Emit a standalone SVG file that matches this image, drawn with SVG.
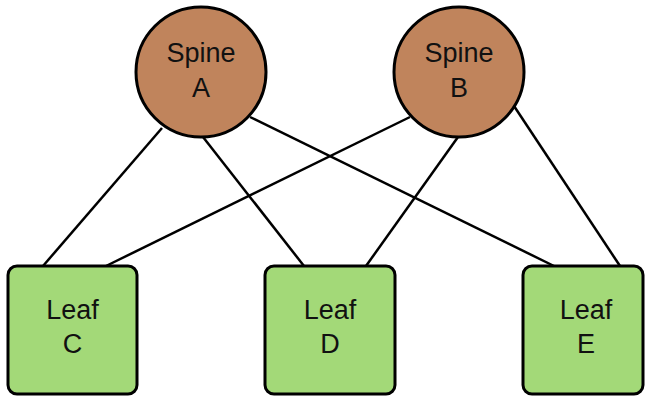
<svg xmlns="http://www.w3.org/2000/svg" width="645" height="396" viewBox="0 0 645 396">
<style>
.spine{fill:#c0845c;stroke:#000;stroke-width:3}
.leaf{fill:#a3d978;stroke:#000;stroke-width:3}
.lbl{font-family:"Liberation Sans",Arial,sans-serif;font-size:27px;fill:#111;text-anchor:middle}
.edge{stroke:#000;stroke-width:2.5;fill:none}
</style>
<rect width="645" height="396" fill="#fff"/>
<g id="connectors">
<line class="edge" x1="162" y1="128" x2="43" y2="266"/>
<line class="edge" x1="203" y1="137" x2="304" y2="266"/>
<line class="edge" x1="250" y1="117" x2="554" y2="266"/>
<line class="edge" x1="410" y1="117" x2="106" y2="266"/>
<line class="edge" x1="458" y1="137" x2="366" y2="266"/>
<line class="edge" x1="514" y1="106" x2="620" y2="266"/>
</g>
<g id="spineA"><circle class="spine" cx="201" cy="72" r="65"/><text class="lbl" x="201" y="62">Spine</text><text class="lbl" x="201" y="97">A</text></g>
<g id="spineB"><circle class="spine" cx="459" cy="72" r="65"/><text class="lbl" x="459" y="62">Spine</text><text class="lbl" x="459" y="97">B</text></g>
<g id="leafC"><rect class="leaf" x="8" y="266" width="129" height="128" rx="9"/><text class="lbl" x="72.500" y="319">Leaf</text><text class="lbl" x="72.500" y="353">C</text></g>
<g id="leafD"><rect class="leaf" x="265" y="266" width="130" height="128" rx="9"/><text class="lbl" x="330" y="319">Leaf</text><text class="lbl" x="330" y="353">D</text></g>
<g id="leafE"><rect class="leaf" x="523" y="266" width="120" height="128" rx="9"/><text class="lbl" x="586" y="319">Leaf</text><text class="lbl" x="586" y="353">E</text></g>
</svg>
